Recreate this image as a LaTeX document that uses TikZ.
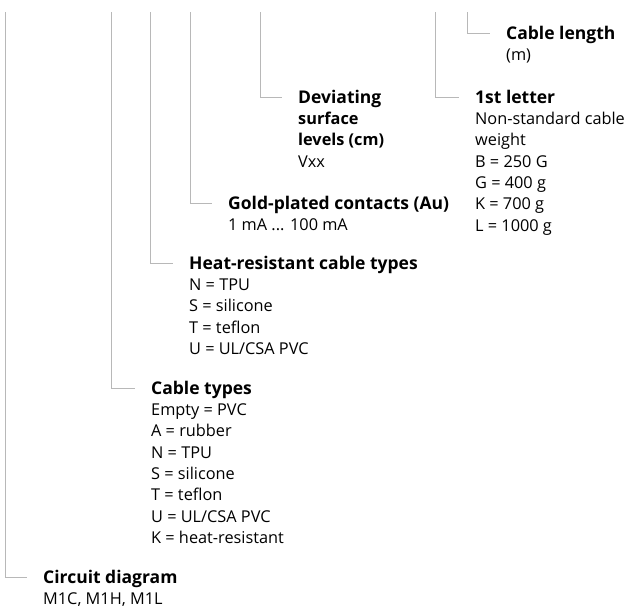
\documentclass[tikz,border=0pt]{standalone}
\usepackage{fontspec}
\setmainfont{Open Sans}
\usetikzlibrary{positioning}

\begin{document}
\begin{tikzpicture}[x=1pt, y=-1pt,
  lead/.style={draw=black!28, line width=1pt, shorten >=16pt},
  ttl/.style={anchor=west, inner sep=0pt, text height=12pt, text depth=0pt,
    font=\fontsize{17.5}{21.3}\selectfont\bfseries},
  body/.style={inner sep=0pt, align=left, anchor=north west,
    font=\fontsize{16.3}{21.3}\selectfont}
]
  \useasboundingbox (0,0) rectangle (625,606);

  % --- column tops ---
  \coordinate (top-circ)  at (5.5,12);
  \coordinate (top-ctype) at (111,12);
  \coordinate (top-heat)  at (150,12);
  \coordinate (top-gold)  at (190,12);
  \coordinate (top-dev)   at (260,12);
  \coordinate (top-first) at (435.5,12);
  \coordinate (top-len)   at (467,12);

  % --- titles ---
  \node[ttl] (circ)  at (43,577)  {Circuit diagram};
  \node[ttl] (ctype) at (151,388) {Cable types};
  \node[ttl] (heat)  at (189,263) {Heat-resistant cable types};
  \node[ttl] (gold)  at (228,203) {Gold-plated contacts (Au)};
  \node[ttl] (dev)   at (298,97)  {Deviating};
  \node[ttl] (first) at (475,97)  {1st letter};
  \node[ttl] (len)   at (506,33)  {Cable length};

  % --- texts below titles ---
  \node[body, below=6.4pt of circ.base west, anchor=north west] (circ-b) {\strut M1C, M1H, M1L};
  \node[body, below=6.4pt of ctype.base west, anchor=north west] (ctype-b)
    {\strut Empty = PVC\\A = rubber\\N = TPU\\S = silicone\\T = teflon\\U = UL/CSA PVC\\K = heat-resistant};
  \node[body, below=6.4pt of heat.base west, anchor=north west] (heat-b)
    {\strut N = TPU\\S = silicone\\T = teflon\\U = UL/CSA PVC};
  \node[body, below=6.4pt of gold.base west, anchor=north west] (gold-b) {\strut 1 mA ... 100 mA};
  \node[body, below=6.4pt of dev.base west, anchor=north west] (dev-b)
    {\strut\textbf{surface}\\\textbf{levels (cm)}\\Vxx};
  \node[body, below=6.4pt of first.base west, anchor=north west] (first-b)
    {\strut Non-standard cable\\weight\\B = 250 G\\G = 400 g\\K = 700 g\\L = 1000 g};
  \node[body, below=6.4pt of len.base west, anchor=north west] (len-b) {\strut(m)};

  % --- leader lines ---
  \draw[lead] (top-circ)  |- (circ.west);
  \draw[lead] (top-ctype) |- (ctype.west);
  \draw[lead] (top-heat)  |- (heat.west);
  \draw[lead] (top-gold)  |- (gold.west);
  \draw[lead] (top-dev)   |- (dev.west);
  \draw[lead] (top-first) |- (first.west);
  \draw[lead] (top-len)   |- (len.west);
\end{tikzpicture}
\end{document}
